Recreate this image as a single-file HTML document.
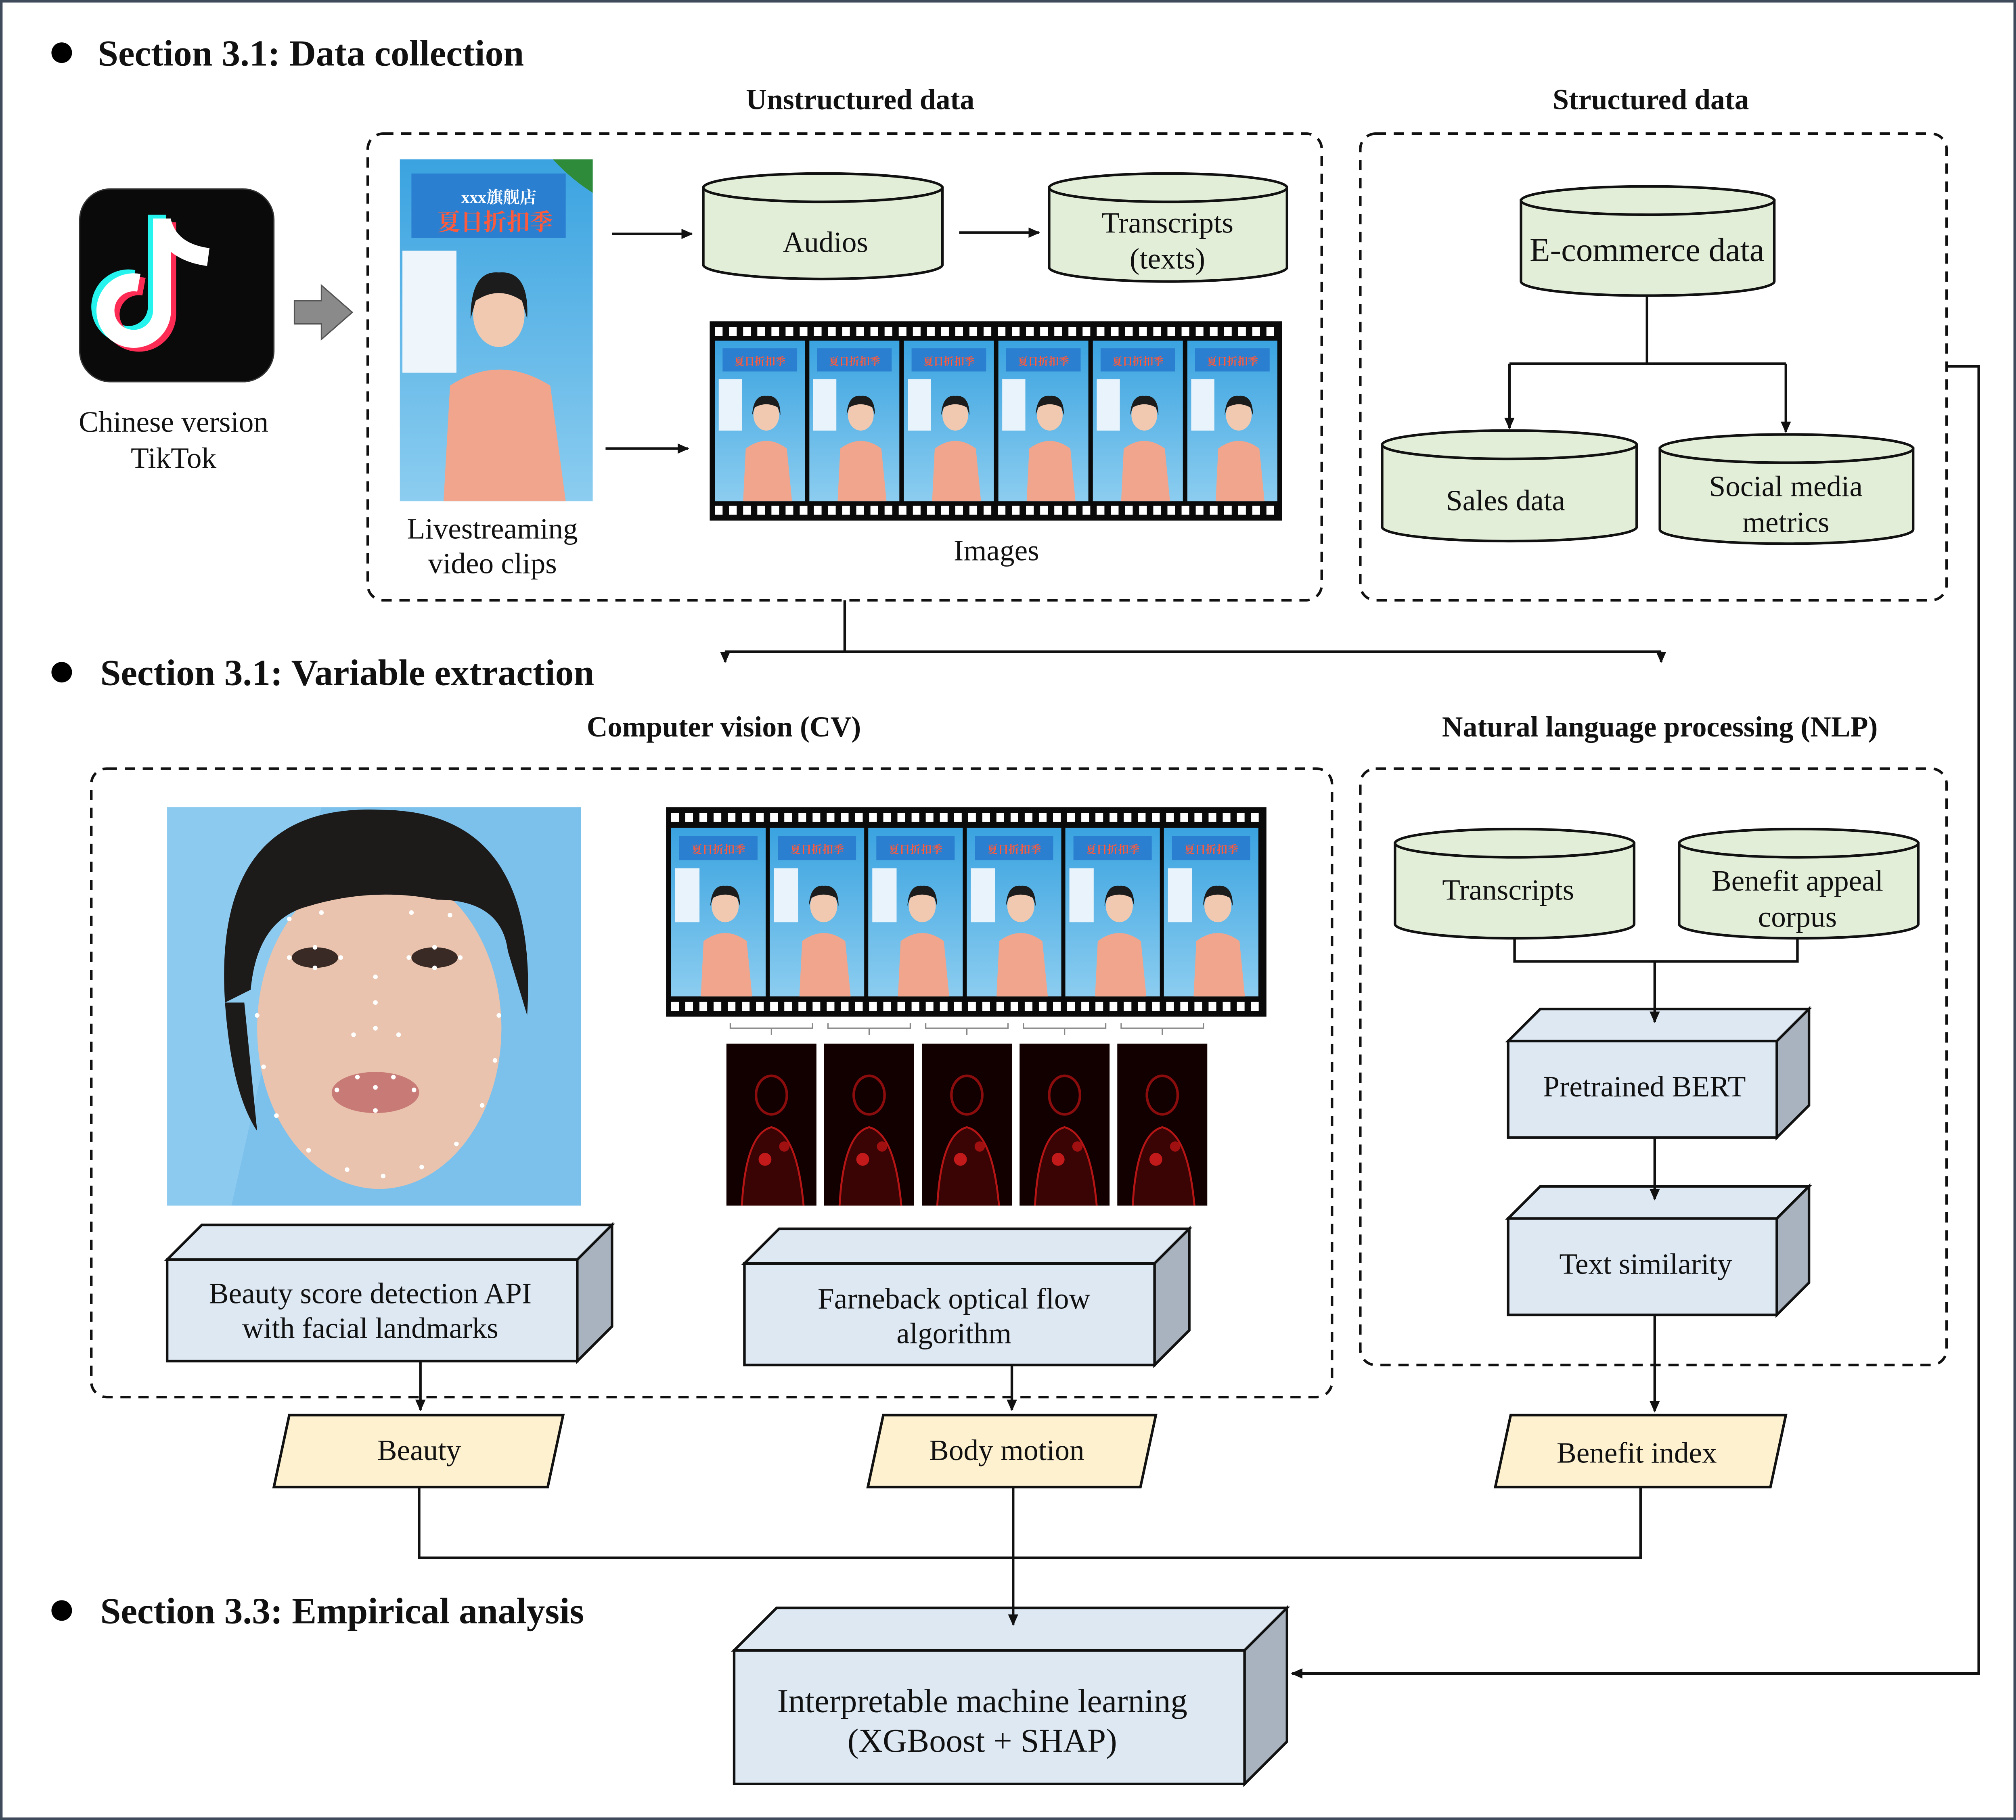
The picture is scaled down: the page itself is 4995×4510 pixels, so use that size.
<!DOCTYPE html>
<html><head><meta charset="utf-8"><style>
html,body{margin:0;padding:0;background:#fff}
svg{display:block}
text{font-family:"Liberation Serif","Noto Serif CJK SC",serif;fill:#111}
.b{font-weight:bold}
</style></head><body>
<svg width="4995" height="4510" viewBox="0 0 1568 1416" preserveAspectRatio="none" xmlns="http://www.w3.org/2000/svg">
<defs>
<marker id="ah" markerWidth="10" markerHeight="10" refX="8" refY="5" orient="auto" markerUnits="userSpaceOnUse"><path d="M0,1 L9,5 L0,9 Z" fill="#111"/></marker>
<linearGradient id="pool" x1="0" y1="0" x2="0" y2="1"><stop offset="0" stop-color="#3aa3e0"/><stop offset="1" stop-color="#8ccdf0"/></linearGradient>
<g id="frame">
<rect x="0" y="0" width="70" height="125" fill="url(#pool)"/>
<rect x="6" y="6" width="58" height="18" fill="#2b7fd0"/>
<text x="35" y="19" font-size="8" text-anchor="middle" style="fill:#ff5a3c;font-weight:bold">夏日折扣季</text>
<rect x="3" y="30" width="18" height="40" fill="#e8f3fb"/>
<ellipse cx="40" cy="58" rx="10" ry="12" fill="#f1c9b0"/>
<path d="M29,58 Q30,42 40,43 Q51,42 51,58 L49,52 Q40,47 31,52Z" fill="#1c1c1c"/>
<path d="M22,125 L24,84 Q40,72 56,84 L60,125Z" fill="#f0a58c"/>
</g>
<g id="red">
<rect x="0" y="0" width="70" height="126" fill="#120000"/>
<ellipse cx="35" cy="40" rx="12" ry="15" fill="none" stroke="#8a0c0c" stroke-width="2"/>
<path d="M12,126 Q15,70 35,65 Q55,70 60,126" fill="#3a0404" stroke="#b51515" stroke-width="1.5"/>
<circle cx="30" cy="90" r="5" fill="#c21a1a"/><circle cx="45" cy="80" r="4" fill="#a01010"/>
</g>
</defs>

<rect x="1" y="1" width="1566" height="1414" fill="#fff" stroke="#3f4a5a" stroke-width="2"/>

<circle cx="48" cy="41" r="8" fill="#000"/>
<text x="76" y="51" font-size="28.7" class="b">Section 3.1: Data collection</text>
<text x="669" y="85" font-size="22.5" class="b" text-anchor="middle">Unstructured data</text>
<text x="1284" y="85" font-size="22.5" class="b" text-anchor="middle">Structured data</text>

<rect x="286" y="104" width="742" height="363" rx="12" fill="none" stroke="#111" stroke-width="2" stroke-dasharray="8,6"/>
<rect x="1058" y="104" width="456" height="363" rx="12" fill="none" stroke="#111" stroke-width="2" stroke-dasharray="8,6"/>

<rect x="62" y="147" width="151" height="150" rx="24" fill="#0a0a0a" stroke="#333"/>
<path d="M126,170 V242 A22,22 0 1 1 108,220" fill="none" stroke="#25f4ee" stroke-width="14" transform="translate(-4,-3)"/>
<path d="M126,170 V242 A22,22 0 1 1 108,220" fill="none" stroke="#fe2c55" stroke-width="14" transform="translate(4,3)"/>
<path d="M126,170 V242 A22,22 0 1 1 108,220" fill="none" stroke="#fff" stroke-width="14"/>
<path d="M126,172 Q132,196 162,200" fill="none" stroke="#fff" stroke-width="14"/>
<text x="135" y="336" font-size="23" text-anchor="middle">Chinese version</text>
<text x="135" y="364" font-size="23" text-anchor="middle">TikTok</text>
<path d="M229,234 H250 V222 L274,243 L250,264 V252 H229 Z" fill="#8a8a8a" stroke="#555"/>

<g>
<rect x="311" y="124" width="150" height="266" fill="url(#pool)"/>
<rect x="320" y="135" width="120" height="50" fill="#2b7fd0"/>
<text x="388" y="158" font-size="13" text-anchor="middle" style="fill:#fff;font-weight:bold">xxx旗舰店</text>
<text x="385" y="179" font-size="18" text-anchor="middle" style="fill:#ff5a3c;font-weight:bold">夏日折扣季</text>
<rect x="313" y="195" width="42" height="95" fill="#eef6fc"/>
<ellipse cx="388" cy="245" rx="20" ry="25" fill="#f1c9b0"/>
<path d="M366,248 Q366,210 388,212 Q412,210 410,248 L406,234 Q388,222 370,234Z" fill="#1c1c1c"/>
<path d="M345,390 L350,300 Q388,275 428,300 L440,390Z" fill="#f0a58c"/>
<path d="M430,124 Q445,140 461,150 L461,124Z" fill="#2e8b3a"/>
</g>
<text x="383" y="419" font-size="23" text-anchor="middle">Livestreaming</text>
<text x="383" y="446" font-size="23" text-anchor="middle">video clips</text>

<g stroke="#111" stroke-width="2" fill="none">
<line x1="476" y1="182" x2="538" y2="182" marker-end="url(#ah)"/>
<line x1="471" y1="349" x2="535" y2="349" marker-end="url(#ah)"/>
<line x1="746" y1="181" x2="808" y2="181" marker-end="url(#ah)"/>
</g>

<g fill="#e3eed9" stroke="#111" stroke-width="2">
<path d="M547,146 V206 A93,11 0 0 0 733,206 V146Z"/><ellipse cx="640" cy="146" rx="93" ry="11"/>
<path d="M816,146 V208 A92.5,11 0 0 0 1001,208 V146Z"/><ellipse cx="908.5" cy="146" rx="92.5" ry="11"/>
<path d="M1183,156 V219 A98.5,11 0 0 0 1380,219 V156Z"/><ellipse cx="1281.5" cy="156" rx="98.5" ry="11"/>
<path d="M1075,346 V410 A99,11 0 0 0 1273,410 V346Z"/><ellipse cx="1174" cy="346" rx="99" ry="11"/>
<path d="M1291,349 V412 A98.5,11 0 0 0 1488,412 V349Z"/><ellipse cx="1389.5" cy="349" rx="98.5" ry="11"/>
<path d="M1085,656 V719 A93,11 0 0 0 1271,719 V656Z"/><ellipse cx="1178" cy="656" rx="93" ry="11"/>
<path d="M1306,656 V719 A93,11 0 0 0 1492,719 V656Z"/><ellipse cx="1399" cy="656" rx="93" ry="11"/>
</g>
<text x="642" y="196" font-size="23" text-anchor="middle">Audios</text>
<text x="908" y="181" font-size="23" text-anchor="middle">Transcripts</text>
<text x="908" y="209" font-size="23" text-anchor="middle">(texts)</text>
<text x="1281" y="203" font-size="26" text-anchor="middle">E-commerce data</text>
<text x="1171" y="397" font-size="23" text-anchor="middle">Sales data</text>
<text x="1389" y="386" font-size="23" text-anchor="middle">Social media</text>
<text x="1389" y="414" font-size="23" text-anchor="middle">metrics</text>
<text x="1173" y="700" font-size="23" text-anchor="middle">Transcripts</text>
<text x="1398" y="693" font-size="23" text-anchor="middle">Benefit appeal</text>
<text x="1398" y="721" font-size="23" text-anchor="middle">corpus</text>

<rect x="552" y="250" width="445" height="155" fill="#0a0a0a"/>
<line x1="556" y1="258" x2="993" y2="258" stroke="#fff" stroke-width="7" stroke-dasharray="6,5"/>
<line x1="556" y1="397" x2="993" y2="397" stroke="#fff" stroke-width="7" stroke-dasharray="6,5"/>
<use href="#frame" transform="translate(556,265)"/>
<use href="#frame" transform="translate(629.5,265)"/>
<use href="#frame" transform="translate(703,265)"/>
<use href="#frame" transform="translate(776.5,265)"/>
<use href="#frame" transform="translate(850,265)"/>
<use href="#frame" transform="translate(923.5,265)"/>
<text x="775" y="436" font-size="23" text-anchor="middle">Images</text>

<g stroke="#111" stroke-width="2" fill="none">
<polyline points="1281,230 1281,283"/>
<polyline points="1174,283 1389,283"/>
<line x1="1174" y1="283" x2="1174" y2="333" marker-end="url(#ah)"/>
<line x1="1389" y1="283" x2="1389" y2="336" marker-end="url(#ah)"/>
<polyline points="1514,285 1539,285 1539,1302 1005,1302" marker-end="url(#ah)"/>
<polyline points="657,467 657,507"/>
<polyline points="564,507 1292,507"/>
<line x1="564" y1="507" x2="564" y2="515" marker-end="url(#ah)"/>
<line x1="1292" y1="507" x2="1292" y2="515" marker-end="url(#ah)"/>
</g>

<circle cx="48" cy="523" r="8" fill="#000"/>
<text x="78" y="533" font-size="28.7" class="b">Section 3.1: Variable extraction</text>
<text x="563" y="573" font-size="22.5" class="b" text-anchor="middle">Computer vision (CV)</text>
<text x="1291" y="573" font-size="22.5" class="b" text-anchor="middle">Natural language processing (NLP)</text>

<rect x="71" y="598" width="965" height="489" rx="12" fill="none" stroke="#111" stroke-width="2" stroke-dasharray="8,6"/>
<rect x="1058" y="598" width="456" height="464" rx="12" fill="none" stroke="#111" stroke-width="2" stroke-dasharray="8,6"/>

<rect x="130" y="628" width="322" height="310" fill="#7cc0ec"/>
<path d="M130,628 L250,628 L180,938 L130,938Z" fill="#9ad0f2" opacity="0.6"/>
<ellipse cx="295" cy="800" rx="95" ry="125" fill="#e9c3ad"/>
<path d="M175,780 Q165,625 295,630 Q420,630 410,790 L395,740 Q390,700 340,700 Q290,690 240,705 Q200,715 195,770 Z" fill="#1d1a1a"/>
<path d="M175,780 Q180,850 200,880 L190,780Z" fill="#1d1a1a"/>
<ellipse cx="245" cy="745" rx="18" ry="8" fill="#3a2a26"/>
<ellipse cx="338" cy="745" rx="18" ry="8" fill="#3a2a26"/>
<ellipse cx="292" cy="850" rx="34" ry="16" fill="#c87b76"/>
<g fill="#fff">
<circle cx="200" cy="790" r="1.8"/><circle cx="205" cy="830" r="1.8"/><circle cx="215" cy="868" r="1.8"/><circle cx="240" cy="895" r="1.8"/><circle cx="270" cy="910" r="1.8"/><circle cx="298" cy="915" r="1.8"/><circle cx="328" cy="908" r="1.8"/><circle cx="355" cy="890" r="1.8"/><circle cx="375" cy="860" r="1.8"/><circle cx="385" cy="825" r="1.8"/><circle cx="388" cy="790" r="1.8"/>
<circle cx="225" cy="745" r="1.8"/><circle cx="245" cy="737" r="1.8"/><circle cx="265" cy="745" r="1.8"/><circle cx="245" cy="753" r="1.8"/>
<circle cx="318" cy="745" r="1.8"/><circle cx="338" cy="737" r="1.8"/><circle cx="358" cy="745" r="1.8"/><circle cx="338" cy="753" r="1.8"/>
<circle cx="225" cy="715" r="1.8"/><circle cx="250" cy="710" r="1.8"/><circle cx="320" cy="710" r="1.8"/><circle cx="350" cy="712" r="1.8"/>
<circle cx="292" cy="760" r="1.8"/><circle cx="292" cy="780" r="1.8"/><circle cx="292" cy="800" r="1.8"/><circle cx="275" cy="805" r="1.8"/><circle cx="310" cy="805" r="1.8"/>
<circle cx="262" cy="848" r="1.8"/><circle cx="278" cy="838" r="1.8"/><circle cx="306" cy="838" r="1.8"/><circle cx="322" cy="848" r="1.8"/><circle cx="292" cy="864" r="1.8"/><circle cx="292" cy="846" r="1.8"/>
</g>

<rect x="518" y="628" width="467" height="163" fill="#0a0a0a"/>
<line x1="522" y1="636" x2="981" y2="636" stroke="#fff" stroke-width="7" stroke-dasharray="6,5"/>
<line x1="522" y1="783" x2="981" y2="783" stroke="#fff" stroke-width="7" stroke-dasharray="6,5"/>
<g transform="translate(522,644) scale(1.05,1.05)">
<use href="#frame" x="0"/><use href="#frame" x="73"/><use href="#frame" x="146"/><use href="#frame" x="219"/><use href="#frame" x="292"/><use href="#frame" x="365"/>
</g>
<g stroke="#888" stroke-width="1" fill="none">
<path d="M568,796 V800 H632 V796 M600,800 V805"/>
<path d="M644,796 V800 H708 V796 M676,800 V805"/>
<path d="M720,796 V800 H784 V796 M752,800 V805"/>
<path d="M796,796 V800 H860 V796 M828,800 V805"/>
<path d="M872,796 V800 H936 V796 M904,800 V805"/>
</g>
<use href="#red" x="565" y="812"/>
<use href="#red" x="641" y="812"/>
<use href="#red" x="717" y="812"/>
<use href="#red" x="793" y="812"/>
<use href="#red" x="869" y="812"/>

<g stroke="#111" stroke-width="2">
<rect x="130" y="980" width="319" height="79" fill="#dde8f3"/>
<polygon points="130,980 157,953 476,953 449,980" fill="#dde8f3"/>
<polygon points="449,980 476,953 476,1032 449,1059" fill="#a9b3bf"/>
<rect x="579" y="983" width="319" height="79" fill="#dde8f3"/>
<polygon points="579,983 606,956 925,956 898,983" fill="#dde8f3"/>
<polygon points="898,983 925,956 925,1035 898,1062" fill="#a9b3bf"/>
<rect x="1173" y="810" width="209" height="75" fill="#dde8f3"/>
<polygon points="1173,810 1198,785 1407,785 1382,810" fill="#dde8f3"/>
<polygon points="1382,810 1407,785 1407,860 1382,885" fill="#a9b3bf"/>
<rect x="1173" y="948" width="209" height="75" fill="#dde8f3"/>
<polygon points="1173,948 1198,923 1407,923 1382,948" fill="#dde8f3"/>
<polygon points="1382,948 1407,923 1407,998 1382,1023" fill="#a9b3bf"/>
<rect x="571" y="1284" width="397" height="104" fill="#dde8f3"/>
<polygon points="571,1284 604,1251 1001,1251 968,1284" fill="#dde8f3"/>
<polygon points="968,1284 1001,1251 1001,1355 968,1388" fill="#a9b3bf"/>
</g>
<text x="288" y="1014" font-size="23" text-anchor="middle">Beauty score detection API</text>
<text x="288" y="1041" font-size="23" text-anchor="middle">with facial landmarks</text>
<text x="742" y="1018" font-size="23" text-anchor="middle">Farneback optical flow</text>
<text x="742" y="1045" font-size="23" text-anchor="middle">algorithm</text>
<text x="1279" y="853" font-size="23" text-anchor="middle">Pretrained BERT</text>
<text x="1280" y="991" font-size="23" text-anchor="middle">Text similarity</text>
<text x="764" y="1332" font-size="26" text-anchor="middle">Interpretable machine learning</text>
<text x="764" y="1363" font-size="26" text-anchor="middle">(XGBoost + SHAP)</text>

<g stroke="#111" stroke-width="2" fill="none">
<polyline points="1178,730 1178,748 1398,748 1398,730"/>
<line x1="1287" y1="748" x2="1287" y2="795" marker-end="url(#ah)"/>
<line x1="1287" y1="885" x2="1287" y2="933" marker-end="url(#ah)"/>
<line x1="1287" y1="1023" x2="1287" y2="1098" marker-end="url(#ah)"/>
<line x1="327" y1="1059" x2="327" y2="1097" marker-end="url(#ah)"/>
<line x1="787" y1="1062" x2="787" y2="1097" marker-end="url(#ah)"/>
<polyline points="326,1157 326,1212 1276,1212 1276,1157"/>
<line x1="788" y1="1157" x2="788" y2="1264" marker-end="url(#ah)"/>
</g>

<g fill="#fdf1cf" stroke="#111" stroke-width="2">
<polygon points="225,1101 438,1101 426,1157 213,1157"/>
<polygon points="687,1101 899,1101 887,1157 675,1157"/>
<polygon points="1175,1101 1389,1101 1377,1157 1163,1157"/>
</g>
<text x="326" y="1136" font-size="23" text-anchor="middle">Beauty</text>
<text x="783" y="1136" font-size="23" text-anchor="middle">Body motion</text>
<text x="1273" y="1138" font-size="23" text-anchor="middle">Benefit index</text>

<circle cx="48" cy="1253" r="8" fill="#000"/>
<text x="78" y="1263" font-size="28.7" class="b">Section 3.3: Empirical analysis</text>
</svg>
</body></html>
